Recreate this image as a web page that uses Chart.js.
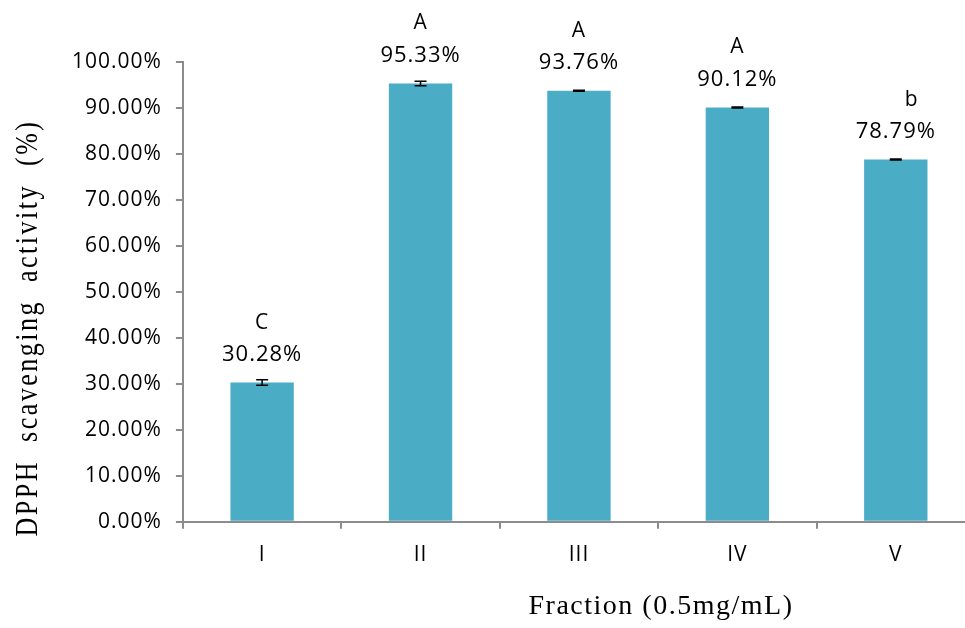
<!DOCTYPE html>
<html>
<head>
<meta charset="utf-8">
<script src="https://cdn.jsdelivr.net/npm/chart.js@4"></script>
<style>
  html, body { margin: 0; padding: 0; background: #fff; overflow: hidden; }
  #wrap { width: 965px; height: 628px; overflow: hidden; }
</style>
</head>
<body>
<div id="wrap"><canvas id="chartDPPH" width="975" height="628"></canvas></div>
<script>
var fractions = ['I', 'II', 'III', 'IV', 'V'];
var activity = [30.28, 95.33, 93.76, 90.12, 78.79];
var errors = [0.6, 0.5, 0.1, 0.1, 0.1];
var letters = ['C', 'A', 'A', 'A', 'b'];
var yTicks = [0, 10, 20, 30, 40, 50, 60, 70, 80, 90, 100];

var sans = '"Open Sans", "Noto Sans", sans-serif';
var serif = '"Liberation Serif", "Times New Roman", serif';

// wider letter spacing for the axis tick labels
var spacing = {
    id: 'spacing',
    beforeLayout: function (chart) { chart.ctx.letterSpacing = '1px'; },
    beforeDraw: function (chart) { chart.ctx.letterSpacing = '1px'; }
};

// error bars, value labels, group letters and axis titles
var extras = {
    id: 'extras',
    afterDatasetsDraw: function (chart) {
        var ctx = chart.ctx;
        var x = chart.scales.x, y = chart.scales.y;
        ctx.save();
        for (var i = 0; i < activity.length; i++) {
            var cx = x.getPixelForValue(i);
            var top = y.getPixelForValue(activity[i] + errors[i]);
            var bot = y.getPixelForValue(activity[i] - errors[i]);
            ctx.strokeStyle = '#000';
            ctx.lineWidth = 1.5;
            ctx.beginPath();
            ctx.moveTo(cx, top); ctx.lineTo(cx, bot);
            ctx.moveTo(cx - 6, top); ctx.lineTo(cx + 6, top);
            ctx.moveTo(cx - 6, bot); ctx.lineTo(cx + 6, bot);
            ctx.stroke();

            var barTop = y.getPixelForValue(activity[i]);
            ctx.fillStyle = '#000';
            ctx.textAlign = 'center';
            ctx.textBaseline = 'middle';
            ctx.letterSpacing = '1px';
            ctx.font = '22px ' + sans;
            ctx.fillText(activity[i].toFixed(2) + '%', cx, barTop - 28);
            ctx.font = '21px ' + sans;
            ctx.fillText(letters[i], cx + (letters[i] === 'b' ? 16 : 0), barTop - 60);
        }

        // x axis title
        ctx.letterSpacing = '1.5px';
        ctx.font = '28px ' + serif;
        ctx.fillText('Fraction (0.5mg/mL)', 661, 607);

        // y axis title
        ctx.save();
        ctx.translate(29, 328);
        ctx.scale(1.2, 1);
        ctx.rotate(-Math.PI / 2);
        ctx.letterSpacing = '2.5px';
        ctx.font = '26px ' + serif;
        ctx.fillText('DPPH  scavenging  activity  (%)', 0, 0);
        ctx.restore();

        ctx.restore();
    }
};

var ctx = document.getElementById('chartDPPH').getContext('2d');
var myChart = new Chart(ctx, {
    type: 'bar',
    data: {
        labels: fractions,
        datasets: [{
            data: activity,
            backgroundColor: '#4BACC6',
            borderWidth: 0,
            barPercentage: 0.4,
            categoryPercentage: 1.0
        }]
    },
    options: {
        responsive: false,
        animation: false,
        layout: { padding: { top: 62, right: 0, bottom: 46, left: 58 } },
        plugins: {
            legend: { display: false },
            tooltip: { enabled: false }
        },
        scales: {
            x: {
                grid: {
                    display: true,
                    drawOnChartArea: false,
                    tickLength: 7,
                    color: '#8c8c8c',
                    lineWidth: 2
                },
                border: { color: '#8c8c8c', width: 2 },
                ticks: {
                    color: '#000',
                    padding: 14,
                    font: { size: 21, family: sans }
                }
            },
            y: {
                min: 0,
                max: 100,
                afterBuildTicks: function (axis) {
                    axis.ticks = yTicks.map(function (v) { return { value: v }; });
                },
                grid: {
                    display: true,
                    drawOnChartArea: false,
                    tickLength: 7,
                    color: '#8c8c8c',
                    lineWidth: 2
                },
                border: { color: '#8c8c8c', width: 2 },
                ticks: {
                    color: '#000',
                    padding: 14,
                    font: { size: 21, family: sans },
                    callback: function (v) { return v.toFixed(2) + '%'; }
                }
            }
        }
    },
    plugins: [spacing, extras]
});
</script>
</body>
</html>
